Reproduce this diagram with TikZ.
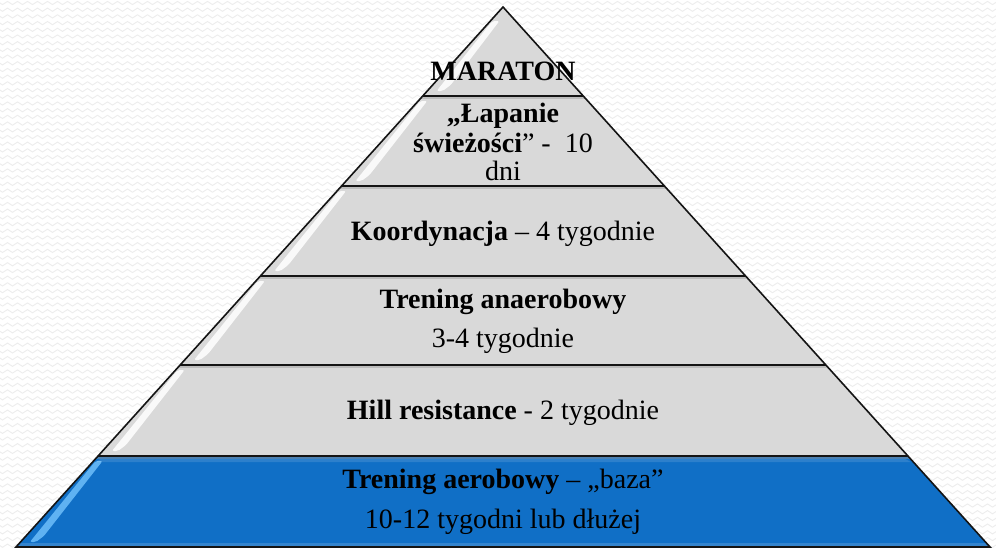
\documentclass[tikz,border=0pt]{standalone}
\usepackage{fontspec}
\setmainfont{Liberation Serif}
\usetikzlibrary{decorations.pathmorphing,calc}
\definecolor{layergray}{RGB}{217,217,217}
\definecolor{baseblue}{RGB}{16,111,198}
\definecolor{hiblue}{RGB}{110,190,250}
\definecolor{edgeline}{RGB}{20,20,20}
\tikzset{
  lbl/.style={anchor=base, inner sep=0pt, font=\fontsize{28}{32}\selectfont},
  bgwave/.style={black!7, line width=0.9pt, decorate,
    decoration={zigzag, segment length=10pt, amplitude=1.6pt}},
  divider/.style={edgeline, line width=1.8pt},
  dividershadow/.style={black!40, line width=2pt, opacity=.45},
  outline/.style={edgeline, line width=1.6pt, line join=miter}
}
\begin{document}
\begin{tikzpicture}[x=1pt,y=-1pt]
\useasboundingbox (0,0) rectangle (996,549);
\fill[white] (0,0) rectangle (996,549);
% background pattern
\foreach \r in {0,...,81}
  \draw[bgwave] (-5,\r*6.7+3) -- (1001,\r*6.7+3);
% layers
\foreach \ya/\yb/\fc/\hc/\ho in {7/96/layergray/white/14, 96/186/layergray/white/5, 186/276/layergray/white/5, 276/365/layergray/white/5, 365/456/layergray/white/5, 456/547/baseblue/hiblue/5} {
  \pgfmathsetmacro\xa{503-(\ya-7)*0.9019}
  \pgfmathsetmacro\xb{503+(\ya-7)*0.9019}
  \pgfmathsetmacro\xc{503-(\yb-7)*0.9019}
  \pgfmathsetmacro\xd{503+(\yb-7)*0.9019}
  \fill[\fc] (\xa,\ya) -- (\xb,\ya) -- (\xd,\yb) -- (\xc,\yb) -- cycle;
  \pgfmathsetmacro\ht{\ya+\ho}
  \pgfmathsetmacro\hb{\yb-11}
  \pgfmathsetmacro\xht{503-(\ht-7)*0.9019}
  \pgfmathsetmacro\xhb{503-(\hb-7)*0.9019}
  \fill[\hc, opacity=.85, rounded corners=2pt] (\xht+2,\ht) -- (\xht+9,\ht) -- (\xhb+18,\hb) -- (\xhb+10,\hb+6) -- (\xhb+4,\hb+6) -- cycle;
}
% blue layer soft bands
\fill[white, opacity=.12] (98.1+2.7,459) -- (907.9-2.7,459) -- (907.9+3,462) -- (98.1-3,462) -- cycle;
\fill[white, opacity=.15] (16+2,543) -- (990-2,543) -- (990-1,546) -- (16+1,546) -- cycle;
% dividers
\foreach \y in {96,186,276,365,456} {
  \pgfmathsetmacro\sy{\y+2}
  \pgfmathsetmacro\sl{503-(\sy-7)*0.9019}
  \pgfmathsetmacro\sr{503+(\sy-7)*0.9019}
  \draw[dividershadow] (\sl,\sy) -- (\sr,\sy);
  \pgfmathsetmacro\dl{503-(\y-7)*0.9019}
  \pgfmathsetmacro\dr{503+(\y-7)*0.9019}
  \draw[divider] (\dl,\y) -- (\dr,\y);
}
% outline
\draw[outline] (16,547) -- (503,7) -- (990,547) -- cycle;
% labels
\node[lbl] (maraton) at (503,80) {\textbf{MARATON}};
\node[lbl] (lap1) at (503,122) {\textbf{„Łapanie}};
\node[lbl] (lap2) at (503,152) {\textbf{świeżości}” -\ \ 10};
\node[lbl] (lap3) at (503,180) {dni};
\node[lbl] (koord) at (503,240) {\textbf{Koordynacja} – 4 tygodnie};
\node[lbl] (anae1) at (503,308) {\textbf{Trening anaerobowy}};
\node[lbl] (anae2) at (503,347) {3-4 tygodnie};
\node[lbl] (hill) at (503,419) {\textbf{Hill resistance} - 2 tygodnie};
\node[lbl] (aero1) at (503,488) {\textbf{Trening aerobowy} – „baza”};
\node[lbl] (aero2) at (503,528) {10-12 tygodni lub dłużej};
\end{tikzpicture}
\end{document}
